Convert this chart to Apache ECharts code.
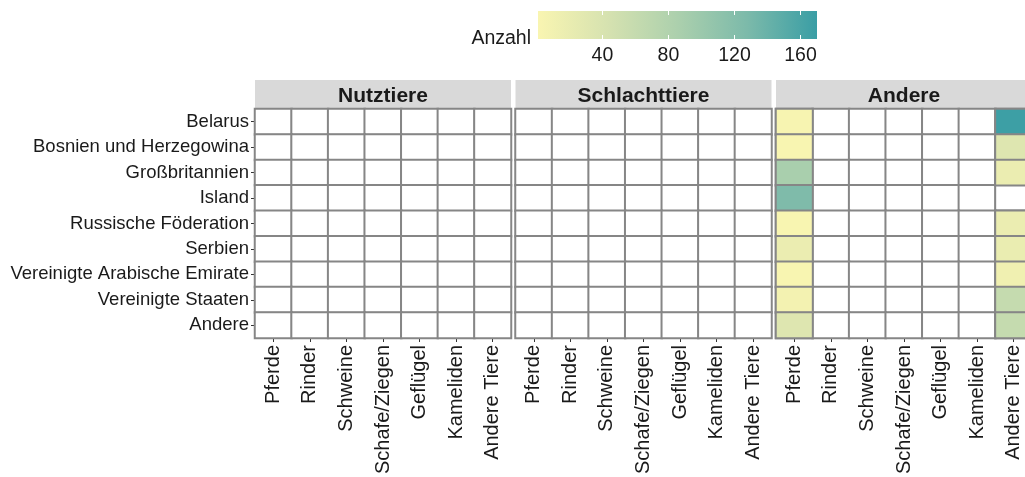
<!DOCTYPE html>
<html>
<head>
<meta charset="utf-8">
<script src="https://cdn.jsdelivr.net/npm/echarts@6/dist/echarts.min.js"></script>
<style>
html,body{margin:0;padding:0;background:#fff;}
#chart{width:1025px;height:477px;}
</style>
</head>
<body>
<div id="chart"></div>
<script>
const rows = ['Belarus','Bosnien und Herzegowina','Großbritannien','Island','Russische Föderation','Serbien','Vereinigte Arabische Emirate','Vereinigte Staaten','Andere'];
const cols = ['Pferde','Rinder','Schweine','Schafe/Ziegen','Geflügel','Kameliden','Andere Tiere'];
const panels = ['Nutztiere','Schlachttiere','Andere'];
const N = null;
// values per panel: one row per country, one entry per animal category (null = no data)
const nutztiereValues = [
  [N,N,N,N,N,N,N],[N,N,N,N,N,N,N],[N,N,N,N,N,N,N],
  [N,N,N,N,N,N,N],[N,N,N,N,N,N,N],[N,N,N,N,N,N,N],
  [N,N,N,N,N,N,N],[N,N,N,N,N,N,N],[N,N,N,N,N,N,N]
];
const schlachttiereValues = [
  [N,N,N,N,N,N,N],[N,N,N,N,N,N,N],[N,N,N,N,N,N,N],
  [N,N,N,N,N,N,N],[N,N,N,N,N,N,N],[N,N,N,N,N,N,N],
  [N,N,N,N,N,N,N],[N,N,N,N,N,N,N],[N,N,N,N,N,N,N]
];
const andereValues = [
  [4,  N,N,N,N,N,168],
  [2,  N,N,N,N,N,34],
  [88, N,N,N,N,N,18],
  [125,N,N,N,N,N,N],
  [2,  N,N,N,N,N,18],
  [18, N,N,N,N,N,19],
  [2,  N,N,N,N,N,12],
  [8,  N,N,N,N,N,60],
  [34, N,N,N,N,N,60]
];
const panelValues = [nutztiereValues, schlachttiereValues, andereValues];
const legendTicks = [40, 80, 120, 160];
const scaleMin = 1, scaleMax = 170;
const scaleColors = ['#f9f5b1', '#d6e2b0', '#acd0ad', '#7cbaaa', '#3a9ea5'];

const FONT = 'Liberation Sans, Arial, sans-serif';
const gridLefts = [255, 515.5, 776];
const gridW = 256, gridTop = 109, gridH = 229;
const border = '#868686';

const grids = [], xAxes = [], yAxes = [], series = [], graphics = [];
const valueSeriesIdx = [];

panels.forEach((p, i) => {
  grids.push({left: gridLefts[i], top: gridTop, width: gridW, height: gridH, outerBoundsMode: 'none', containLabel: false});
  xAxes.push({
    type: 'category', data: cols, gridIndex: i, position: 'bottom',
    axisLine: {show: false}, splitLine: {show: false},
    axisTick: {show: true, alignWithLabel: true, length: 4, lineStyle: {color: '#333', width: 1}},
    axisLabel: {rotate: 90, interval: 0, fontSize: 20, fontFamily: FONT, color: '#1a1a1a', margin: 7}
  });
  yAxes.push({
    type: 'category', data: rows, gridIndex: i, inverse: true,
    axisLine: {show: false}, splitLine: {show: false},
    axisTick: {show: i === 0, alignWithLabel: true, length: 4, lineStyle: {color: '#333', width: 1}},
    axisLabel: {show: i === 0, interval: 0, fontSize: 18.5, fontFamily: FONT, color: '#1a1a1a', margin: 6}
  });
  const bg = [], vals = [];
  rows.forEach((r, ri) => cols.forEach((c, ci) => {
    bg.push([ci, ri, 0]);
    const v = panelValues[i][ri][ci];
    if (v !== null) vals.push([ci, ri, v]);
  }));
  series.push({
    type: 'heatmap', xAxisIndex: i, yAxisIndex: i, data: bg, silent: true,
    itemStyle: {color: '#ffffff', borderColor: border, borderWidth: 2}, z: 1
  });
  valueSeriesIdx.push(series.length);
  series.push({
    type: 'heatmap', xAxisIndex: i, yAxisIndex: i, data: vals,
    itemStyle: {borderColor: border, borderWidth: 2}, z: 2
  });
  graphics.push({
    type: 'rect', shape: {x: gridLefts[i], y: 80, width: gridW, height: 28},
    style: {fill: '#d9d9d9'}, silent: true
  });
  graphics.push({
    type: 'text', x: gridLefts[i] + gridW / 2, y: 96.5,
    style: {text: p, font: 'bold 21px ' + FONT, fill: '#1a1a1a', textAlign: 'center', textVerticalAlign: 'middle'},
    silent: true
  });
});

// legend colour bar (same colour stops as the visualMap)
graphics.push({
  type: 'rect', z: 1, shape: {x: 538, y: 11, width: 279, height: 28}, silent: true,
  style: {fill: new echarts.graphic.LinearGradient(0, 0, 1, 0,
    scaleColors.map((c, k) => ({offset: k / (scaleColors.length - 1), color: c})))}
});

// legend axis grid (overlaying colour bar)
grids.push({left: 538, top: 11, width: 279, height: 28, outerBoundsMode: 'none', containLabel: false});
xAxes.push({
  type: 'value', gridIndex: 3, min: scaleMin, max: scaleMax, position: 'bottom', z: 100,
  axisLine: {show: false}, splitLine: {show: false},
  axisTick: {show: true, inside: true, length: 4, customValues: legendTicks, lineStyle: {color: '#ffffff', width: 1}},
  axisLabel: {show: true, customValues: legendTicks, fontSize: 19.5, fontFamily: FONT, color: '#1a1a1a', margin: 7}
});
xAxes.push({
  type: 'value', gridIndex: 3, min: scaleMin, max: scaleMax, position: 'top', z: 100,
  axisLine: {show: false}, splitLine: {show: false},
  axisTick: {show: true, inside: true, length: 4, customValues: legendTicks, lineStyle: {color: '#ffffff', width: 1}},
  axisLabel: {show: false}
});
yAxes.push({type: 'value', gridIndex: 3, show: false});

graphics.push({
  type: 'text', x: 531, y: 39,
  style: {text: 'Anzahl', font: '19.5px ' + FONT, fill: '#1a1a1a', textAlign: 'right', textVerticalAlign: 'middle'},
  silent: true
});

const chart = echarts.init(document.getElementById('chart'), null, {renderer: 'canvas'});
chart.setOption({
  backgroundColor: '#ffffff',
  animation: false,
  grid: grids,
  xAxis: xAxes,
  yAxis: yAxes,
  visualMap: {
    type: 'continuous', show: false, min: scaleMin, max: scaleMax, seriesIndex: valueSeriesIdx,
    inRange: {color: scaleColors}
  },
  graphic: {elements: graphics},
  series: series
});
</script>
</body>
</html>
